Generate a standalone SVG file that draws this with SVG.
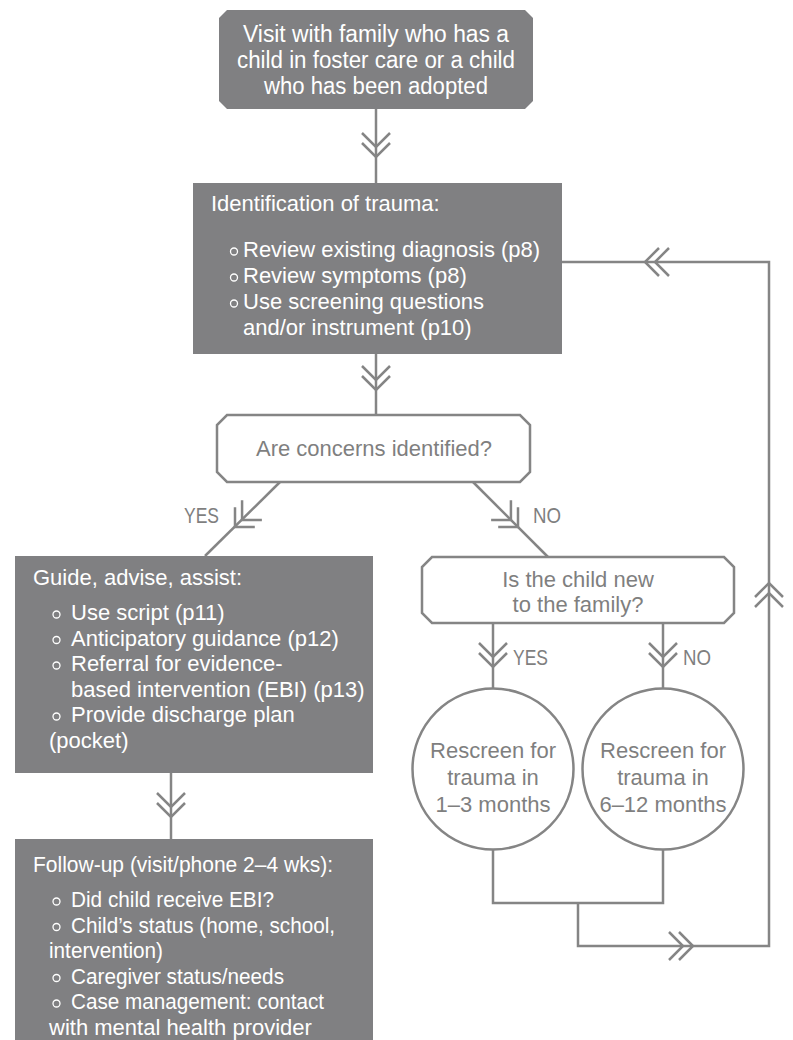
<svg xmlns="http://www.w3.org/2000/svg" xmlns:xlink="http://www.w3.org/1999/xlink" width="793" height="1040" viewBox="0 0 793 1040">
<style>
.box{fill:#808082;stroke:none}
.dec{fill:#ffffff;stroke:#858585;stroke-width:2.5}
.circ{fill:#ffffff;stroke:#858585;stroke-width:2.5}
.ln{fill:none;stroke:#858585;stroke-width:2.5}
.t{font-family:"Liberation Sans",Arial,sans-serif;font-size:22px}
.w{fill:#ffffff}
.g{fill:#7f7f7f}
.mid{text-anchor:middle}
.ttl{font-size:23px}
.bul{fill:none;stroke:#ffffff;stroke-width:1.3}
</style>
<defs>
<path id="chev" d="M-14,-14 L0,0 L-14,14 M-24,-14 L-10,0 L-24,14" fill="none" stroke="#858585" stroke-width="2.5"/>
</defs>

<g id="connectors">
<path class="ln" d="M376,109 V183"/>
<path class="ln" d="M376,354 V415"/>
<path class="ln" d="M280,482 L205,556"/>
<path class="ln" d="M473,482 L548,557"/>
<path class="ln" d="M171,773 V839"/>
<path class="ln" d="M493,623 V689"/>
<path class="ln" d="M663,623 V689"/>
<path class="ln" d="M493,850 V903 H663 V850"/>
<path class="ln" d="M578,903 V946 H769 V262 H562"/>
<use xlink:href="#chev" transform="translate(376,157) rotate(90)"/>
<use xlink:href="#chev" transform="translate(376,390) rotate(90)"/>
<use xlink:href="#chev" transform="translate(235,527) rotate(135)"/>
<use xlink:href="#chev" transform="translate(518,527) rotate(45)"/>
<use xlink:href="#chev" transform="translate(171,817) rotate(90)"/>
<use xlink:href="#chev" transform="translate(493,667) rotate(90)"/>
<use xlink:href="#chev" transform="translate(663,667) rotate(90)"/>
<use xlink:href="#chev" transform="translate(769,583) rotate(-90)"/>
<use xlink:href="#chev" transform="translate(645,262) rotate(180)"/>
<use xlink:href="#chev" transform="translate(693,946)"/>
<text class="t g" x="184" y="523" textLength="35" lengthAdjust="spacingAndGlyphs">YES</text>
<text class="t g" x="533" y="523" textLength="28" lengthAdjust="spacingAndGlyphs">NO</text>
<text class="t g" x="513" y="665" textLength="35" lengthAdjust="spacingAndGlyphs">YES</text>
<text class="t g" x="683" y="665" textLength="28" lengthAdjust="spacingAndGlyphs">NO</text>
</g>

<g id="visit">
<polygon class="box" points="227,10 525,10 533,18 533,101 525,109 227,109 219,101 219,18"/>
<text class="t w mid ttl" x="376" y="42" textLength="266" lengthAdjust="spacingAndGlyphs">Visit with family who has a</text>
<text class="t w mid ttl" x="376" y="68" textLength="278" lengthAdjust="spacingAndGlyphs">child in foster care or a child</text>
<text class="t w mid ttl" x="376" y="94" textLength="224" lengthAdjust="spacingAndGlyphs">who has been adopted</text>
</g>

<g id="identification">
<rect class="box" x="193" y="183" width="369" height="171"/>
<text class="t w" x="211" y="211">Identification of trauma:</text>
<circle class="bul" cx="234" cy="251.5" r="3.5"/>
<text class="t w" x="243" y="257">Review existing diagnosis (p8)</text>
<circle class="bul" cx="234" cy="277.5" r="3.5"/>
<text class="t w" x="243" y="283">Review symptoms (p8)</text>
<circle class="bul" cx="234" cy="303.5" r="3.5"/>
<text class="t w" x="243" y="309">Use screening questions</text>
<text class="t w" x="243" y="335">and/or instrument (p10)</text>
</g>

<g id="concerns">
<polygon class="dec" points="227,415 520,415 530,425 530,472 520,482 227,482 217,472 217,425"/>
<text class="t g mid" x="374" y="456">Are concerns identified?</text>
</g>

<g id="guide">
<rect class="box" x="15" y="556" width="358" height="217"/>
<text class="t w" x="33" y="585">Guide, advise, assist:</text>
<circle class="bul" cx="56.5" cy="614.5" r="3.5"/>
<text class="t w" x="71" y="620">Use script (p11)</text>
<circle class="bul" cx="56.5" cy="640" r="3.5"/>
<text class="t w" x="71" y="645.5">Anticipatory guidance (p12)</text>
<circle class="bul" cx="56.5" cy="665.5" r="3.5"/>
<text class="t w" x="71" y="671">Referral for evidence-</text>
<text class="t w" x="71" y="696.5">based intervention (EBI) (p13)</text>
<circle class="bul" cx="56.5" cy="716.5" r="3.5"/>
<text class="t w" x="71" y="722">Provide discharge plan</text>
<text class="t w" x="49" y="747.5">(pocket)</text>
</g>

<g id="followup">
<rect class="box" x="15" y="839" width="358" height="201"/>
<text class="t w" x="33" y="872" textLength="300" lengthAdjust="spacingAndGlyphs">Follow-up (visit/phone 2–4 wks):</text>
<circle class="bul" cx="56.5" cy="901.5" r="3.5"/>
<text class="t w" x="71" y="907" textLength="203" lengthAdjust="spacingAndGlyphs">Did child receive EBI?</text>
<circle class="bul" cx="56.5" cy="927" r="3.5"/>
<text class="t w" x="71" y="932.5" textLength="264" lengthAdjust="spacingAndGlyphs">Child’s status (home, school,</text>
<text class="t w" x="49" y="958" textLength="114" lengthAdjust="spacingAndGlyphs">intervention)</text>
<circle class="bul" cx="56.5" cy="978" r="3.5"/>
<text class="t w" x="71" y="983.5" textLength="213" lengthAdjust="spacingAndGlyphs">Caregiver status/needs</text>
<circle class="bul" cx="56.5" cy="1003.5" r="3.5"/>
<text class="t w" x="71" y="1009" textLength="253" lengthAdjust="spacingAndGlyphs">Case management: contact</text>
<text class="t w" x="49" y="1034.5">with mental health provider</text>
</g>

<g id="newchild">
<polygon class="dec" points="432,557 724,557 734,567 734,613 724,623 432,623 422,613 422,567"/>
<text class="t g mid" x="578" y="587">Is the child new</text>
<text class="t g mid" x="578" y="612">to the family?</text>
</g>

<g id="rescreen13">
<circle class="circ" cx="493" cy="769" r="80.5"/>
<text class="t g mid" x="493" y="758">Rescreen for</text>
<text class="t g mid" x="493" y="785">trauma in</text>
<text class="t g mid" x="493" y="812">1–3 months</text>
</g>

<g id="rescreen612">
<circle class="circ" cx="663" cy="769" r="80.5"/>
<text class="t g mid" x="663" y="758">Rescreen for</text>
<text class="t g mid" x="663" y="785">trauma in</text>
<text class="t g mid" x="663" y="812">6–12 months</text>
</g>
</svg>
